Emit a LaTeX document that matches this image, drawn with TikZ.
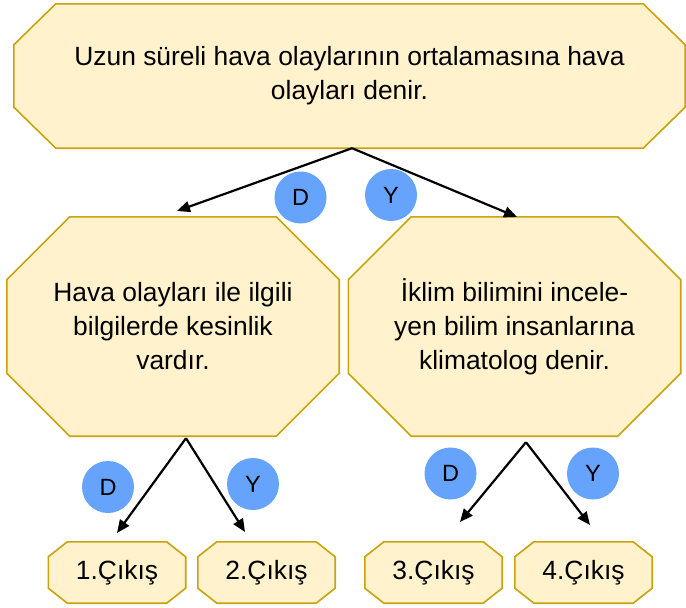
\documentclass[tikz,border=0pt]{standalone}
\usepackage{fontspec}
\setmainfont{Liberation Sans}
\usepackage{tikz}
\usetikzlibrary{arrows.meta}
\usetikzlibrary{backgrounds}
\usetikzlibrary{positioning}
\definecolor{kutu}{HTML}{FFF2CC}
\definecolor{kenar}{HTML}{C9A20C}
\definecolor{mavi}{HTML}{66A3FC}
\tikzset{>={Triangle[length=13pt,width=11pt]}}

\begin{document}
\begin{tikzpicture}[x=1pt,y=-1pt,
    oct/.style={rectangle,align=center,inner sep=0pt,font=\fontsize{26.4}{34}\selectfont},
    cikis/.style={oct,minimum width=137pt,minimum height=61pt},
    dy/.style={circle,fill=mavi,minimum size=52pt,inner sep=0pt,
      font=\fontsize{23.5}{26}\selectfont}]
    \useasboundingbox (0,0) rectangle (686,608);

    \node (a1) [oct,minimum width=671pt,minimum height=144pt]
      at (349.5,76) {Uzun süreli hava olaylarının ortalamasına hava\\olayları denir.};
    \node (a2) [oct,minimum width=332pt,minimum height=219pt]
      at (173,326.5) {Hava olayları ile ilgili\\bilgilerde kesinlik\\vardır.};
    \node (a3) [oct,minimum width=332pt,minimum height=219pt]
      at (514.5,326.5) {İklim bilimini incele-\\yen bilim insanlarına\\klimatolog denir.};

    \node (c1) [cikis] at (117,572.5) {1.Çıkış};
    \node (c2) [cikis] at (266.5,572.5) {2.Çıkış};
    \node (c3) [cikis] at (433.5,572.5) {3.Çıkış};
    \node (c4) [cikis] at (583.5,572.5) {4.Çıkış};

    % chamfered boxes behind the texts
    \begin{scope}[on background layer]
      \foreach \n/\cx/\cy in {a1/42/41,a2/63/63,a3/63/63,c1/19/15,c2/19/15,c3/19/15,c4/19/15}
        \draw[draw=kenar,fill=kutu,line width=1.6pt]
          ([xshift=\cx pt]\n.north west) -- ([xshift=-\cx pt]\n.north east)
          -- ([yshift=-\cy pt]\n.north east) -- ([yshift=\cy pt]\n.south east)
          -- ([xshift=-\cx pt]\n.south east) -- ([xshift=\cx pt]\n.south west)
          -- ([yshift=\cy pt]\n.south west) -- ([yshift=-\cy pt]\n.north west) -- cycle;
    \end{scope}

    \coordinate (u1) at (177,211);
    \coordinate (u2) at (517,217);
    \coordinate (u3) at (117,533);
    \coordinate (u4) at (245,532);
    \coordinate (u5) at (460,522);
    \coordinate (u6) at (590,525);

    \draw[->,line width=2.2pt] ([xshift=2.5pt]a1.south) -- (u1);
    \draw[->,line width=2.2pt] ([xshift=2.5pt]a1.south) -- (u2);
    \draw[->,line width=2.2pt] ([xshift=13pt,yshift=-2pt]a2.south) -- (u3);
    \draw[->,line width=2.2pt] ([xshift=13pt,yshift=-2pt]a2.south) -- (u4);
    \draw[->,line width=2.2pt] ([xshift=11.5pt,yshift=-6pt]a3.south) -- (u5);
    \draw[->,line width=2.2pt] ([xshift=11.5pt,yshift=-6pt]a3.south) -- (u6);

    \node (d1) [dy] at (300.5,197.5) {D};
    \node (y1) [dy] at (391,195) {Y};
    \node (d2) [dy] at (108,487) {D};
    \node (y2) [dy] at (253,484) {Y};
    \node (d3) [dy] at (450.5,473.5) {D};
    \node (y3) [dy] at (593,473.5) {Y};
  \end{tikzpicture}
\end{document}
